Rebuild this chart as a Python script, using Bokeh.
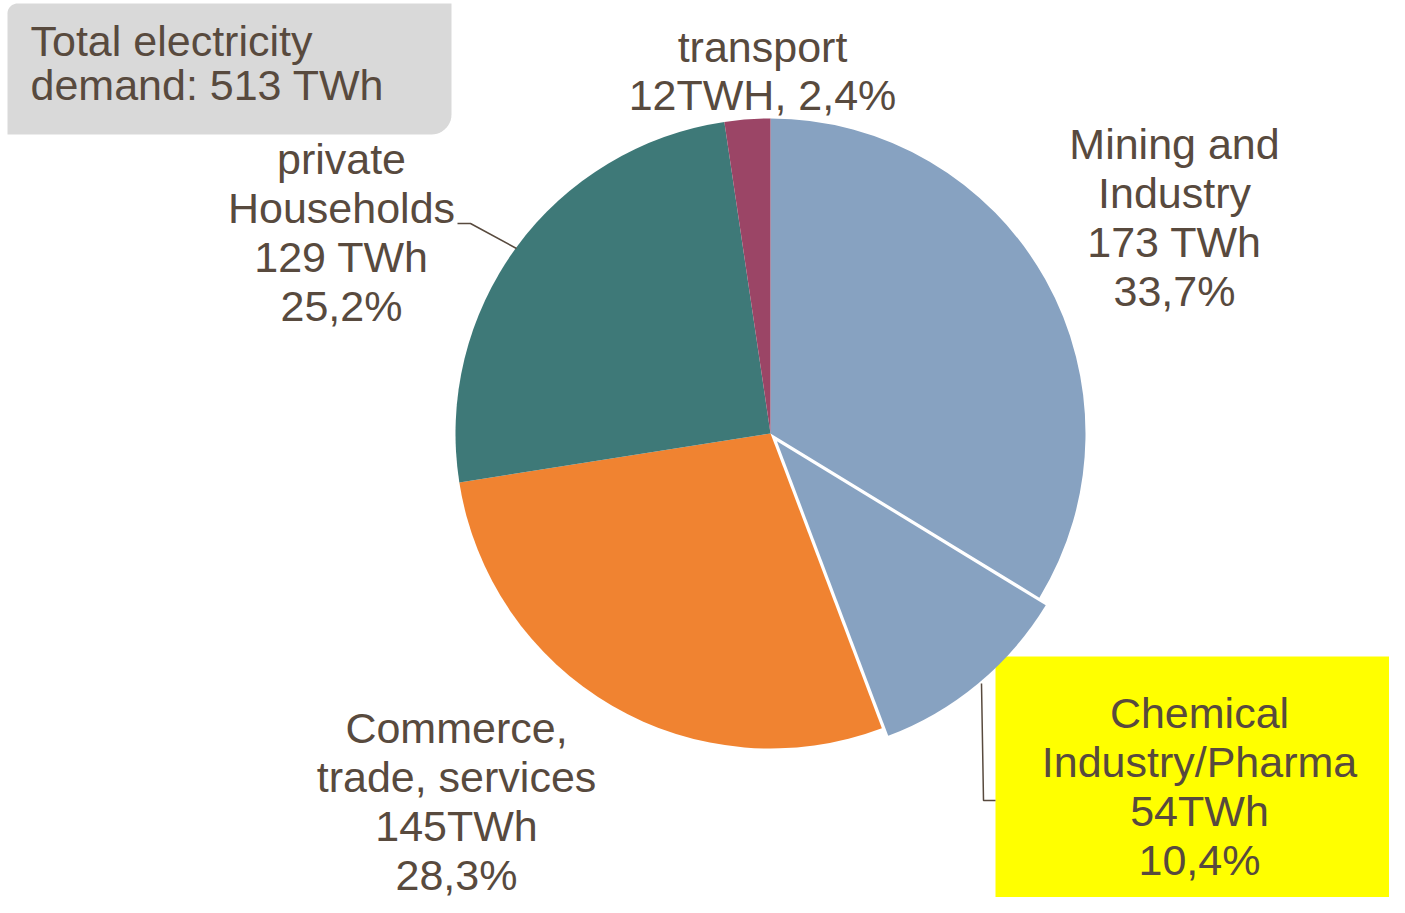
import numpy as np
from bokeh.plotting import figure
from bokeh.models import Range1d, ColumnDataSource
from bokeh.core.properties import value
from bokeh.embed import file_html
from bokeh.resources import INLINE

# ---------------- data ----------------
categories = ["Mining and Industry", "Chemical Industry/Pharma",
              "Commerce, trade, services", "private Households", "transport"]
values_twh = [173, 54, 145, 129, 12]
total_twh = 513
label_lines = [
    ["Mining and", "Industry", "173 TWh", "33,7%"],
    ["Chemical", "Industry/Pharma", "54TWh", "10,4%"],
    ["Commerce,", "trade, services", "145TWh", "28,3%"],
    ["private", "Households", "129 TWh", "25,2%"],
    ["transport", "12TWH, 2,4%"],
]
title_lines = ["Total electricity", "demand: 513 TWh"]

# ---------------- styling / layout ----------------
colors = ["#87A2C1", "#87A2C1", "#F08331", "#3E7978", "#9B4566"]
explode = [0, 10, 0, 0, 0]
TEXT = "#584A3E"
FONT = value("Liberation Sans")
FS = value("43px")
H = 913          # reference pixel height, y flip helper
TDY = 14         # correction for text baseline placement


def Y(py):
    return H - py


def YT(py):
    return H - (py - TDY)


# label anchors (reference pixel coords of the first baseline)
label_pos = [(1174, 157), (1199, 726), (456, 741), (341, 172), (762, 60)]
line_gap = [49, 49, 49, 49, 48]

p = figure(width=1389, height=897, output_backend="svg", toolbar_location=None,
           x_range=Range1d(0, 1389), y_range=Range1d(16, 913), min_border=0)
p.axis.visible = False
p.grid.visible = False
p.outline_line_color = None
p.background_fill_color = "white"
p.border_fill_color = "white"

# grey info box with rounded top-left / bottom-right corners
x0, x1, y0, y1 = 7, 451, 3, 134
r1, r2 = 10, 20
t = np.linspace(0, np.pi / 2, 12)
bx, by = [x1], [y0]
for a in t:
    bx.append(x1 - r2 + r2 * np.cos(a)); by.append(y1 - r2 + r2 * np.sin(a))
bx.append(x0); by.append(y1)
for a in t:
    bx.append(x0 + r1 - r1 * np.cos(a)); by.append(y0 + r1 - r1 * np.sin(a))
p.patch(bx, [Y(v) for v in by], fill_color="#D9D9D9", line_color=None)

# yellow highlight box
p.quad(left=[995], right=[1410], bottom=[Y(920)], top=[Y(656)],
       fill_color="#FFFF00", line_color=None)

# pie
cx, cy, R = 770, Y(433), 315
fr = np.array(values_twh, dtype=float) / sum(values_twh)
ends = 90 - np.cumsum(fr) * 360
starts = np.concatenate([[90], ends[:-1]])
mids = np.radians((starts + ends) / 2)
wx = cx + np.array(explode) * np.cos(mids)
wy = cy + np.array(explode) * np.sin(mids)
src = ColumnDataSource(dict(x=wx, y=wy, s=np.radians(starts), e=np.radians(ends),
                            c=colors, cat=categories))
p.wedge(x="x", y="y", radius=R, start_angle="s", end_angle="e",
        direction="clock", fill_color="c", line_color=None, source=src)

# leader lines
p.line([457, 470, 516], [Y(223), Y(223), Y(248)], line_color=TEXT, line_width=1.5)
p.line([981, 983, 995], [Y(683), Y(800), Y(800)], line_color=TEXT, line_width=1.5)

# labels
tx, ty, tt = [], [], []
for (ax, ay), gap, lines in zip(label_pos, line_gap, label_lines):
    for i, ln in enumerate(lines):
        tx.append(ax); ty.append(YT(ay + i * gap)); tt.append(ln)
p.text(x="x", y="y", text="t", source=ColumnDataSource(dict(x=tx, y=ty, t=tt)),
       text_font=FONT, text_font_size=FS, text_color=TEXT,
       text_align="center", text_baseline="alphabetic")

p.text(x=[30, 30], y=[YT(54), YT(98)], text=title_lines,
       text_font=FONT, text_font_size=FS, text_color=TEXT,
       text_align="left", text_baseline="alphabetic")

open("out.html", "w").write(file_html(p, INLINE))
